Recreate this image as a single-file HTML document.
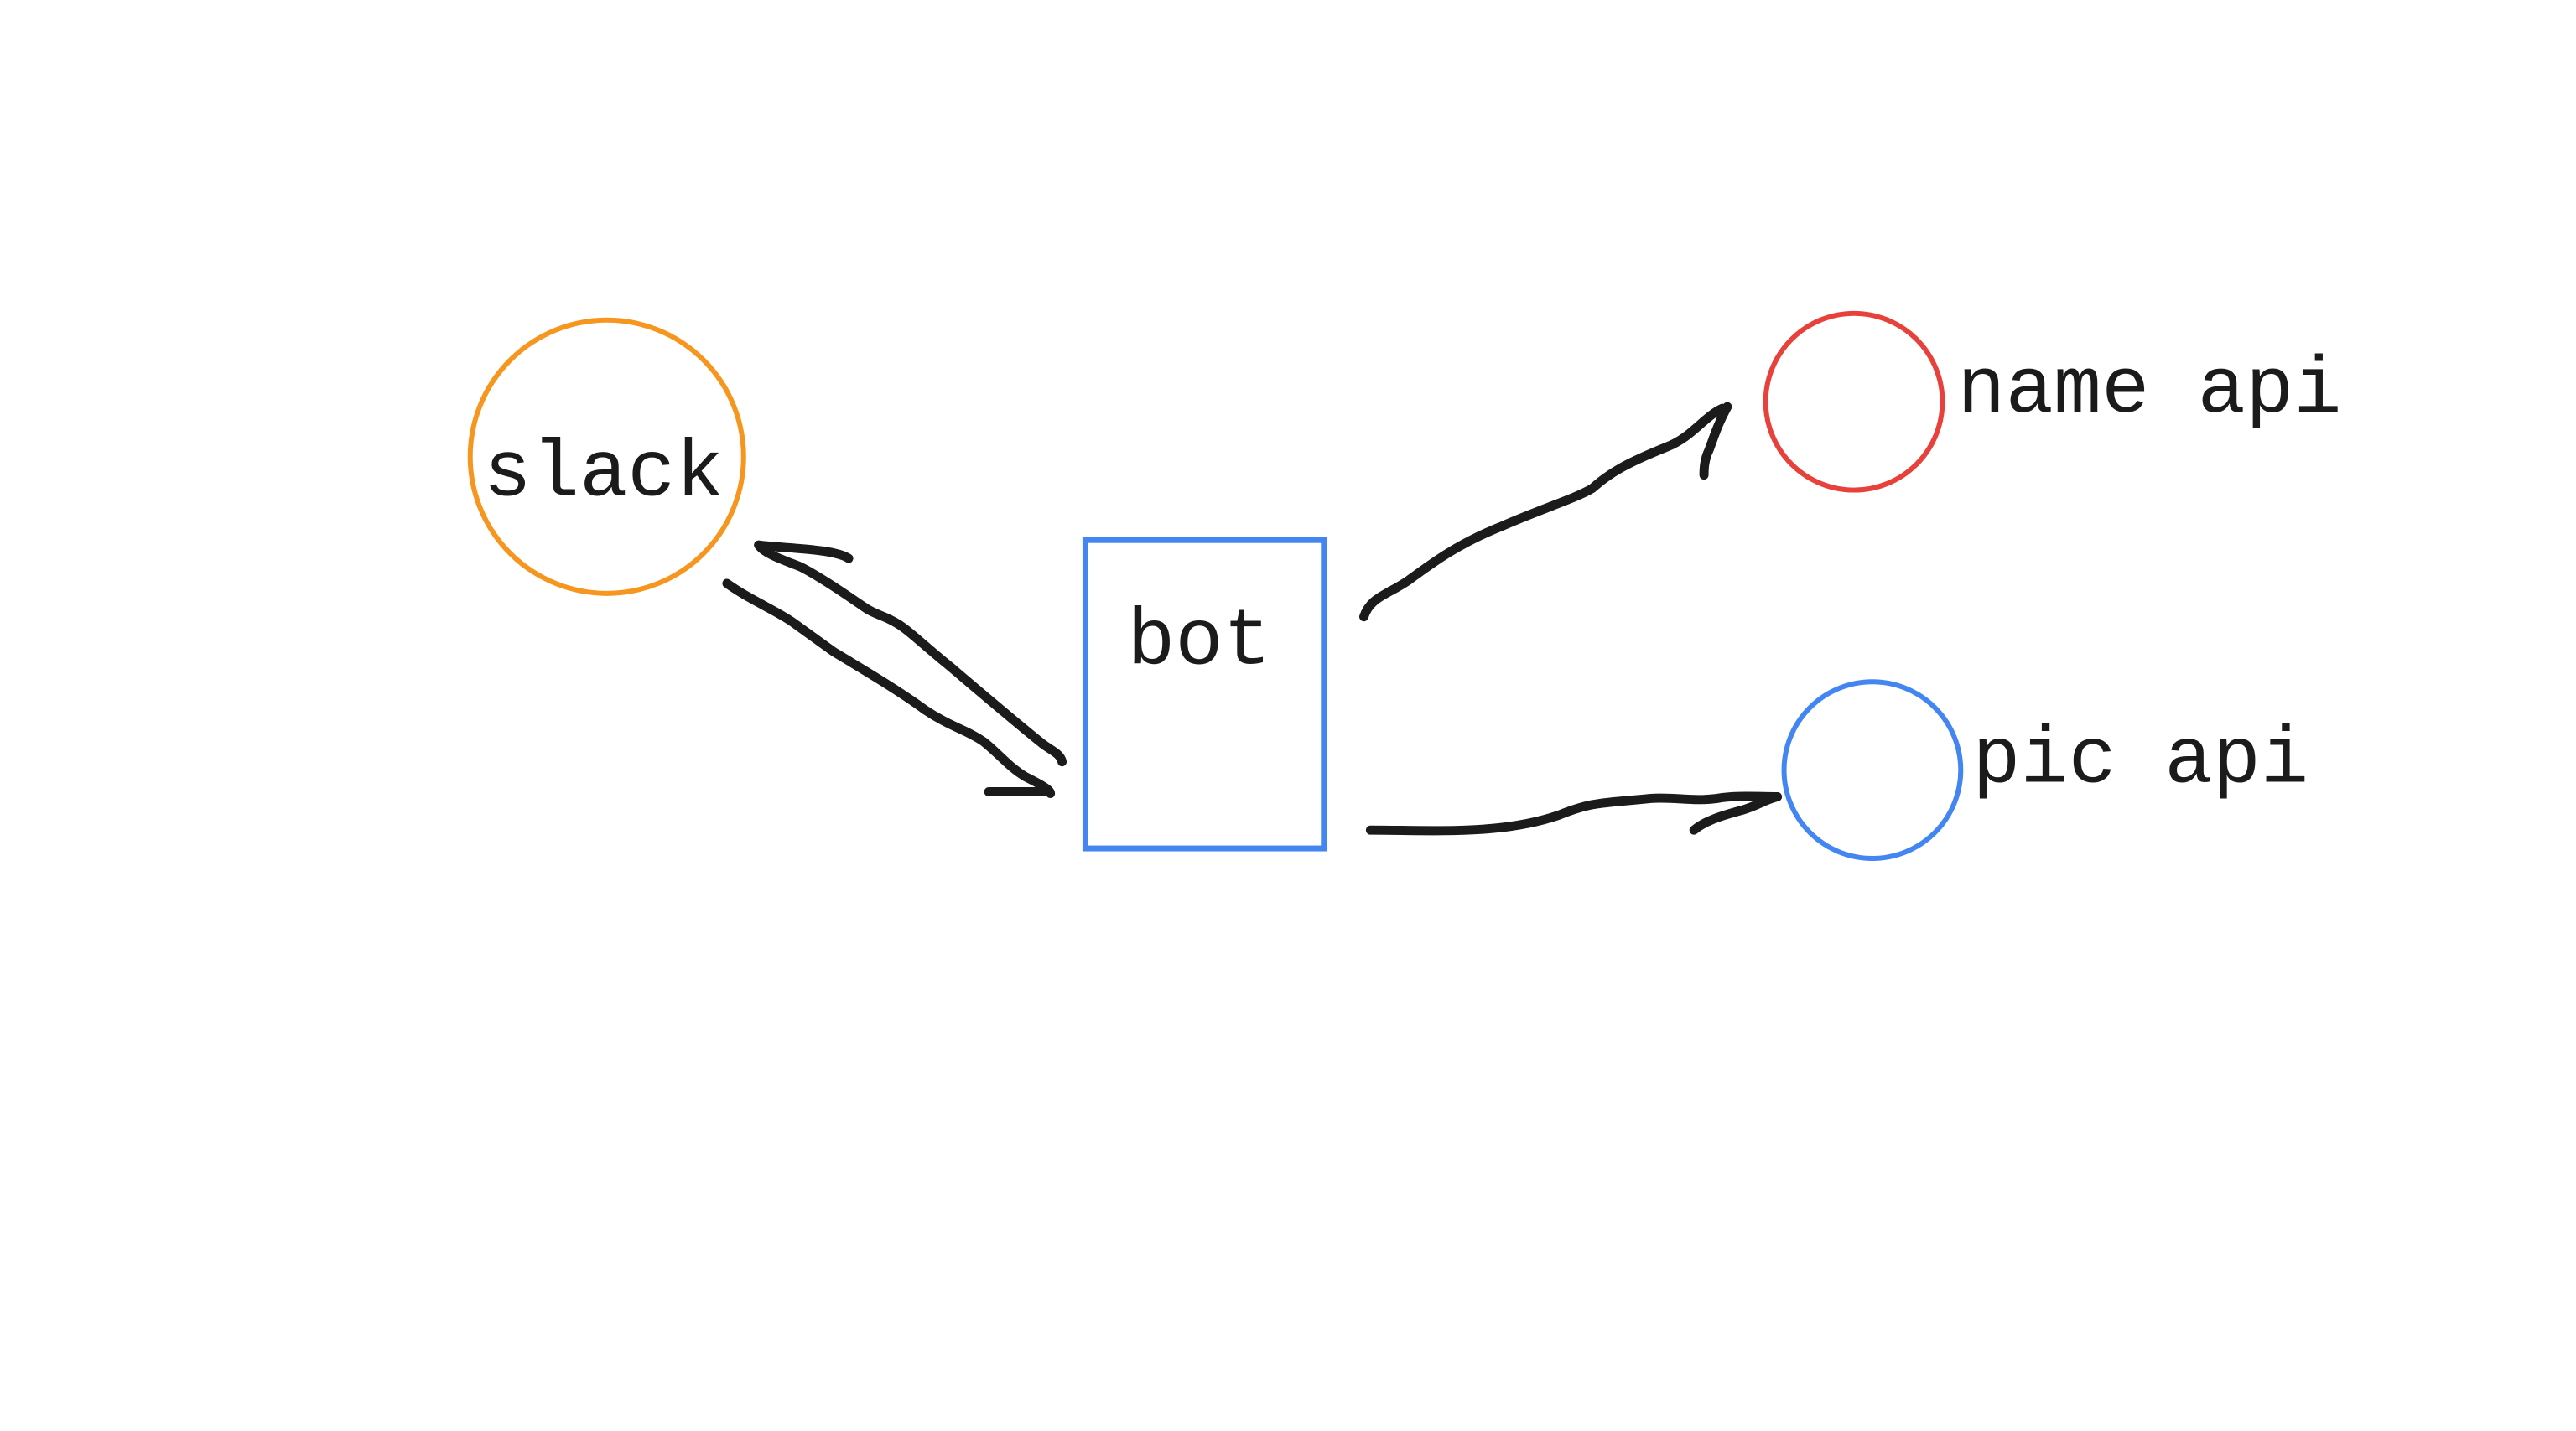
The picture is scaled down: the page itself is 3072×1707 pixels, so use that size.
<!DOCTYPE html>
<html><head><meta charset="utf-8"><style>
html,body{margin:0;padding:0;background:#fff;width:3072px;height:1707px;overflow:hidden}
svg{display:block}
</style></head><body>
<svg width="3072" height="1707" viewBox="0 0 1545 858.5" preserveAspectRatio="none" xmlns="http://www.w3.org/2000/svg">
<circle cx="364" cy="274" r="82" fill="none" stroke="#f7961e" stroke-width="3"/>
<circle cx="1112" cy="241" r="53" fill="none" stroke="#e8403a" stroke-width="3"/>
<circle cx="1123" cy="462" r="53" fill="none" stroke="#4386f2" stroke-width="3"/>
<rect x="651" y="324" width="143" height="185" fill="none" stroke="#4386f2" stroke-width="3.5"/>
<g font-family="Liberation Mono, monospace" font-size="48" fill="#1b1b1b">
<text x="290" y="297">slack</text>
<text x="676" y="398">bot</text>
<text x="1174" y="247">name api</text>
<text x="1183" y="469">pic api</text>
</g>
<g fill="none" stroke="#1b1b1b" stroke-width="5.5" stroke-linecap="round" stroke-linejoin="round">
<path d="M436,350 C450,360 465,366 475,373 L500,391 C520,403 540,415 555,426 C570,436 580,438 590,445 C600,453 605,460 615,466 C625,471 630,474 630,476"/>
<path d="M593,475 L628,475"/>
<path d="M637,457 C636,452 630,450 625,446 C610,434 590,417 570,400 C555,388 545,378 538,374 C530,369 525,369 518,364 C505,355 490,345 480,340 C470,336 458,332 455,327"/>
<path d="M455,327 C470,329 500,329 509,335"/>
<path d="M818,370 C822,358 832,357 845,348 C860,337 875,326 900,316 C925,305 945,299 955,293 C965,284 975,278 1000,268 C1015,262 1022,250 1033,245"/>
<path d="M1036,244 C1030,255 1028,262 1025,270 C1022,276 1022,282 1022,285"/>
<path d="M822,498 C860,498 900,501 935,489 C955,481 960,482 990,479 C1005,478 1015,481 1030,479 C1040,477 1055,478 1066,478"/>
<path d="M1066,478 C1058,480 1055,483 1045,486 C1030,490 1022,493 1016,498"/>
</g>
</svg>
</body></html>
